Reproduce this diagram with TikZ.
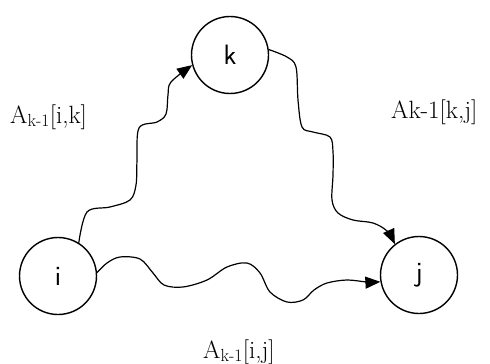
\documentclass[tikz,border=0pt]{standalone}
\usetikzlibrary{arrows.meta}
\begin{document}
\begin{tikzpicture}[x=1pt,y=-1pt,
  vert/.style={circle,draw,line width=1.4pt,minimum size=77pt,inner sep=0pt,font=\sffamily\fontsize{28}{28}\selectfont},
  wave/.style={line width=1.2pt,-{Triangle[length=15pt,width=12pt]}},
  lbl/.style={font=\fontsize{25}{25}\selectfont,inner sep=0pt}]
\useasboundingbox (0,0) rectangle (490,364);
\node[vert] (k) at (230,55) {k};
\node[vert] (i) at (58,276) {i};
\node[vert] (j) at (419,275) {j};
\node[lbl,anchor=base west] (lik) at (10,123) {A\textsubscript{k-1}[i,k]};
\node[lbl,anchor=base west] (lkj) at (391,118) {Ak-1[k,j]};
\node[lbl,anchor=base west] (lij) at (203,358) {A\textsubscript{k-1}[i,j]};
\draw[wave] plot[smooth,tension=0.55] coordinates {(i.58) (87,212) (110,207) (130,200) (136,185) (137,160) (139,128) (157,122) (166,114) (168,95) (171,82) (k.195)};
\draw[wave] plot[smooth,tension=0.55] coordinates {(k.8) (287,57) (296,67) (298,100) (302,127) (313,132) (330,137) (333,152) (333,175) (332,200) (338,213) (353,220) (373,223) (387,231) (j.128)};
\draw[wave] plot[smooth,tension=0.55] coordinates {(i.5) (107,263) (120,257) (140,259) (153,273) (164,285) (183,287) (207,280) (227,267) (247,263) (260,273) (270,292) (287,302) (303,300) (314,290) (327,283) (347,280) (367,282) (j.190)};
\end{tikzpicture}
\end{document}
